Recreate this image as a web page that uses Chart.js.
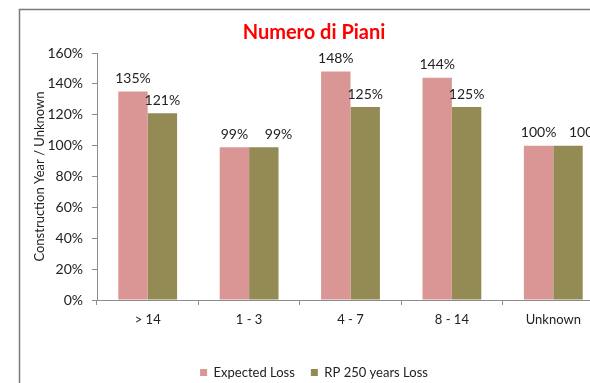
<!DOCTYPE html>
<html>
<head>
<meta charset="utf-8">
<script src="https://cdn.jsdelivr.net/npm/chart.js@4/dist/chart.umd.min.js"></script>
<style>
  html, body { margin: 0; padding: 0; background: #fff; overflow: hidden; }
  #wrap { position: absolute; left: 0; top: 0; width: 632px; height: 383px; }
</style>
</head>
<body>
<div id="wrap"><canvas id="c" width="632" height="383"></canvas></div>
<script>
// Categories (number of floors) and loss ratios in percent
const categories = ['> 14', '1 - 3', '4 - 7', '8 - 14', 'Unknown'];
const expectedLoss = [135, 99, 148, 144, 100];
const rp250Loss = [121, 99, 125, 125, 100];
const yTicks = [0, 20, 40, 60, 80, 100, 120, 140, 160];

const FONT = 'Lato, "Open Sans", sans-serif';
const TEXT = '#222222';
const AXIS = '#8c8c8c';

// White background plus the frame around the chart
const framePlugin = {
  id: 'frame',
  beforeDraw(chart) {
    const ctx = chart.ctx;
    ctx.save();
    ctx.fillStyle = '#fff';
    ctx.fillRect(0, 0, chart.width, chart.height);
    ctx.strokeStyle = '#7a7a7a';
    ctx.lineWidth = 1.5;
    ctx.beginPath();
    ctx.moveTo(19.5, chart.height);
    ctx.lineTo(19.5, 9.5);
    ctx.lineTo(chart.width, 9.5);
    ctx.stroke();
    ctx.restore();
  }
};

// Value labels above each bar; a label that would collide with the
// label of the bar to its left is moved to start at its bar's centre.
const valueLabels = {
  id: 'valueLabels',
  afterDatasetsDraw(chart) {
    const ctx = chart.ctx;
    ctx.save();
    ctx.font = '14px ' + FONT;
    ctx.fillStyle = TEXT;
    ctx.textBaseline = 'bottom';
    const n = chart.data.labels.length;
    for (let j = 0; j < n; j++) {
      let prevRight = -Infinity, prevY = null;
      chart.data.datasets.forEach((ds, i) => {
        const bar = chart.getDatasetMeta(i).data[j];
        const text = ds.data[j] + '%';
        const w = ctx.measureText(text).width;
        let left = bar.x - w / 2;
        const y = bar.y - 6;
        if (prevY !== null && Math.abs(prevY - y) < 14 && left < prevRight + 4) {
          left = bar.x + 1;
        }
        ctx.textAlign = 'left';
        ctx.fillText(text, left, y);
        prevRight = left + w;
        prevY = y;
      });
    }
    ctx.restore();
  }
};

new Chart(document.getElementById('c'), {
  type: 'bar',
  data: {
    labels: categories,
    datasets: [
      { label: 'Expected Loss', data: expectedLoss, backgroundColor: '#D99694' },
      { label: 'RP 250 years Loss', data: rp250Loss, backgroundColor: '#948A54' }
    ]
  },
  options: {
    responsive: false,
    animation: false,
    devicePixelRatio: 1,
    barPercentage: 1,
    categoryPercentage: 0.58,
    layout: { padding: { left: 24, right: 28, top: 0, bottom: -6 } },
    plugins: {
      title: {
        display: true,
        text: 'Numero di Piani',
        color: '#FF0000',
        font: { family: FONT, size: 20, weight: 'bold' },
        padding: { top: 21, bottom: 8 }
      },
      legend: {
        position: 'bottom',
        labels: {
          boxWidth: 7,
          boxHeight: 7,
          padding: 16,
          color: TEXT,
          font: { family: FONT, size: 13 }
        }
      },
      tooltip: { enabled: false }
    },
    scales: {
      x: {
        grid: { drawOnChartArea: false, tickLength: 5, color: AXIS, offset: true },
        border: { color: AXIS },
        ticks: { padding: 7, color: TEXT, font: { family: FONT, size: 13 } },
        afterFit: s => { s.height = 50; }
      },
      y: {
        min: 0,
        max: 160,
        afterBuildTicks: s => { s.ticks = yTicks.map(v => ({ value: v })); },
        ticks: { padding: 9, color: TEXT, font: { family: FONT, size: 14 }, callback: v => v + '%' },
        grid: { drawOnChartArea: false, tickLength: 5, color: AXIS },
        border: { color: AXIS },
        title: {
          display: true,
          text: 'Construction Year / Unknown',
          color: TEXT,
          font: { family: FONT, size: 13 },
          padding: { top: 8, bottom: 0 }
        },
        afterFit: s => { s.width = 73; }
      }
    }
  },
  plugins: [framePlugin, valueLabels]
});
</script>
</body>
</html>
